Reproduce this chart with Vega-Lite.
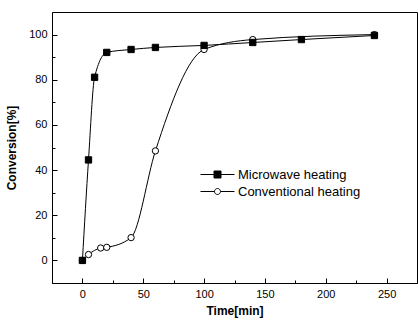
{
  "$schema": "https://vega.github.io/schema/vega-lite/v6.json",
  "autosize": {"type": "none"},
  "width": 365,
  "height": 271,
  "padding": {"left": 52, "top": 12, "right": 1, "bottom": 38},
  "background": "white",
  "config": {
    "view": {"stroke": "black", "strokeWidth": 1},
    "font": "Liberation Sans",
    "axis": {
      "grid": false,
      "domainColor": "black",
      "tickColor": "black",
      "labelColor": "black",
      "labelFont": "Liberation Sans",
      "labelFontSize": 11,
      "titleFont": "Liberation Sans",
      "titleFontSize": 12,
      "titleFontWeight": "bold",
      "titleColor": "black"
    },
    "legend": {
      "title": null,
      "labelFontSize": 13,
      "labelFont": "Liberation Sans",
      "labelColor": "black",
      "symbolSize": 100,
      "symbolStrokeWidth": 1,
      "symbolOpacity": 1,
      "labelOffset": 14,
      "rowPadding": 3
    }
  },
  "data": {
    "values": [
      {"series": "Conventional heating", "time": 0, "conversion": 0},
      {"series": "Conventional heating", "time": 5, "conversion": 2.6},
      {"series": "Conventional heating", "time": 15, "conversion": 5.5},
      {"series": "Conventional heating", "time": 20, "conversion": 5.8},
      {"series": "Conventional heating", "time": 40, "conversion": 10.1},
      {"series": "Conventional heating", "time": 60, "conversion": 48.5},
      {"series": "Conventional heating", "time": 100, "conversion": 93.4},
      {"series": "Conventional heating", "time": 140, "conversion": 97.8},
      {"series": "Conventional heating", "time": 240, "conversion": 100},
      {"series": "Microwave heating", "time": 0, "conversion": 0},
      {"series": "Microwave heating", "time": 5, "conversion": 44.5},
      {"series": "Microwave heating", "time": 10, "conversion": 81.1},
      {"series": "Microwave heating", "time": 20, "conversion": 92.1},
      {"series": "Microwave heating", "time": 40, "conversion": 93.4},
      {"series": "Microwave heating", "time": 60, "conversion": 94.3},
      {"series": "Microwave heating", "time": 100, "conversion": 95.2},
      {"series": "Microwave heating", "time": 140, "conversion": 96.5},
      {"series": "Microwave heating", "time": 180, "conversion": 97.8},
      {"series": "Microwave heating", "time": 240, "conversion": 99.6}
    ]
  },
  "encoding": {
    "x": {
      "field": "time", "type": "quantitative",
      "scale": {"domain": [-25, 275], "nice": false},
      "axis": {
        "title": "Time[min]",
        "values": [0, 25, 50, 75, 100, 125, 150, 175, 200, 225, 250],
        "labelExpr": "datum.value % 50 === 0 ? datum.label : ''",
        "tickSize": {"condition": {"test": "datum.value % 50 === 0", "value": -5}, "value": -3},
        "labelPadding": 10,
        "titlePadding": 6
      }
    },
    "y": {
      "field": "conversion", "type": "quantitative",
      "scale": {"domain": [-10, 110], "nice": false},
      "axis": {
        "title": "Conversion[%]",
        "values": [0, 10, 20, 30, 40, 50, 60, 70, 80, 90, 100],
        "labelExpr": "datum.value % 20 === 0 ? datum.label : ''",
        "tickSize": {"condition": {"test": "datum.value % 20 === 0", "value": -5}, "value": -3},
        "labelPadding": 10,
        "titlePadding": 10
      }
    }
  },
  "layer": [
    {
      "mark": {"type": "line", "interpolate": "monotone", "color": "black", "strokeWidth": 1},
      "encoding": {"detail": {"field": "series"}}
    },
    {
      "mark": {"type": "point", "size": 40, "stroke": "black", "strokeWidth": 1, "opacity": 1},
      "encoding": {
        "shape": {"condition": {"test": "datum.series === 'Microwave heating'", "value": "square"}, "value": "circle"},
        "fill": {"condition": {"test": "datum.series === 'Microwave heating'", "value": "black"}, "value": "white"}
      }
    },
    {
      "transform": [{"filter": "false"}],
      "mark": {"type": "point", "size": 100, "strokeWidth": 1, "opacity": 1},
      "encoding": {
        "shape": {
          "field": "series", "type": "nominal",
          "scale": {
            "domain": ["Microwave heating", "Conventional heating"],
            "range": ["M-3.4,0H3.4M-0.7,-0.7H0.7V0.7H-0.7Z", "M-3.4,0H-0.6M0.6,0H3.4M-0.6,0A0.6,0.6 0 1,0 0.6,0A0.6,0.6 0 1,0 -0.6,0"]
          },
          "legend": {"orient": "none", "legendX": 159, "legendY": 156}
        },
        "fill": {
          "field": "series", "type": "nominal",
          "scale": {"domain": ["Microwave heating", "Conventional heating"], "range": ["black", "white"]},
          "legend": {"orient": "none", "legendX": 159, "legendY": 156}
        },
        "stroke": {
          "field": "series", "type": "nominal",
          "scale": {"domain": ["Microwave heating", "Conventional heating"], "range": ["black", "black"]},
          "legend": {"orient": "none", "legendX": 159, "legendY": 156}
        }
      }
    }
  ]
}
